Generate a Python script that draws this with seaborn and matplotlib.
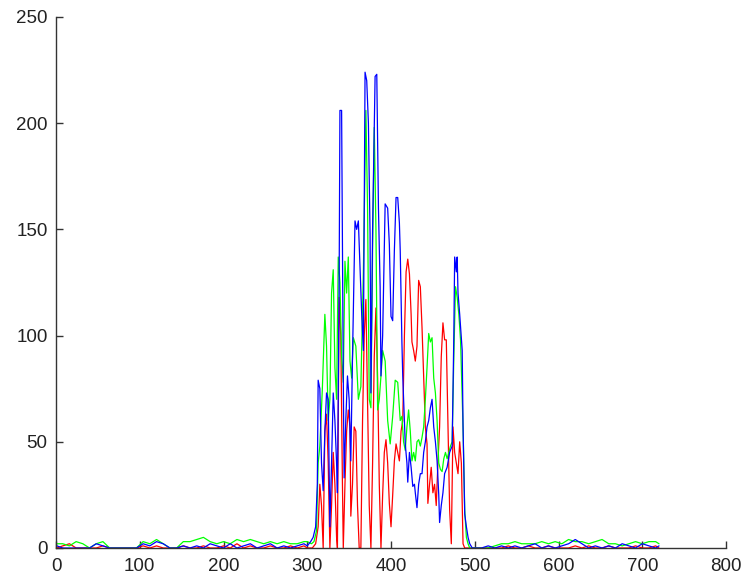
import numpy as np
import pandas as pd
import seaborn as sns
import matplotlib.pyplot as plt

sns.set_style("ticks")
plt.rcParams["font.family"] = ["Liberation Sans", "DejaVu Sans"]

# quiet stretches either side of the active band (shared x positions)
left_x = [1] + list(range(8, 297, 8))
right_x = [500, 508, 516, 524, 532, 540, 548, 556, 564, 572, 580, 588, 596, 604,
           612, 620, 628, 636, 644, 652, 660, 668, 676, 684, 692, 700, 708, 716, 720]

red_left = [0, 1, 2, 0, 0, 0, 0, 1, 0, 0, 0, 0, 0, 1, 0, 1, 0, 0, 0, 1, 0, 0, 1, 0,
            0, 1, 0, 2, 0, 1, 0, 0, 1, 0, 0, 1, 0, 1]
green_left = [2, 2, 1, 3, 2, 0, 2, 3, 0, 0, 0, 0, 0, 3, 2, 4, 2, 0, 0, 3, 3, 4, 5, 3,
              2, 3, 2, 4, 3, 4, 3, 2, 3, 2, 3, 2, 2, 3]
blue_left = [1, 0, 0, 0, 0, 0, 2, 1, 0, 0, 0, 0, 0, 2, 1, 3, 2, 0, 0, 1, 0, 1, 0, 2,
             1, 0, 2, 0, 1, 2, 0, 1, 2, 0, 1, 0, 1, 2]

red_right = [0, 0, 0, 0, 0, 1, 0, 0, 1, 0, 0, 1, 0, 0, 0, 1, 0, 1, 0, 0, 1, 0, 0, 0,
             1, 0, 0, 1, 0]
green_right = [0, 0, 0, 1, 2, 2, 3, 2, 2, 2, 3, 2, 3, 2, 4, 3, 3, 2, 3, 4, 2, 2, 1, 2,
               3, 2, 3, 3, 2]
blue_right = [0, 0, 1, 0, 1, 0, 1, 0, 1, 2, 0, 1, 0, 1, 2, 4, 2, 0, 1, 0, 1, 0, 2, 1,
              0, 2, 1, 0, 1]

# active band
red_ax = [300, 306, 310, 313, 315, 317, 319, 321, 323, 325, 327, 329, 331, 333, 335, 336,
          338, 340, 342, 343, 345, 347, 349, 351, 352, 354, 356, 358, 360, 362, 364, 366,
          368, 370, 372, 374, 376, 378, 380, 382, 384, 386, 388, 390, 392, 394, 396, 398,
          400, 402, 404, 406, 408, 410, 412, 414, 416, 418, 420, 422, 424, 425, 427, 429,
          431, 433, 435, 437, 439, 441, 443, 444, 446, 448, 450, 452, 454, 456, 458, 460,
          462, 464, 466, 468, 470, 472, 474, 476, 478, 480, 482, 484, 486, 488, 494]
red_ay = [0, 0, 2, 10, 30, 20, 0, 55, 63, 40, 0, 20, 45, 30, 5, 0,
          118, 100, 30, 0, 30, 55, 65, 57, 15, 30, 57, 55, 20, 0, 0, 60,
          100, 117, 70, 20, 0, 40, 90, 113, 80, 30, 0, 25, 45, 51, 40, 21,
          10, 25, 41, 49, 45, 41, 55, 60, 100, 130, 136, 129, 110, 97, 93, 88,
          95, 126, 123, 104, 80, 57, 49, 21, 30, 38, 26, 30, 20, 40, 57, 90,
          106, 98, 98, 57, 18, 2, 57, 45, 40, 35, 50, 40, 2, 0, 0]

green_ax = [300, 305, 308, 311, 313, 315, 318, 321, 323, 325, 327, 329, 331, 333, 335, 337,
            339, 341, 343, 345, 347, 349, 351, 353, 355, 358, 361, 364, 367, 370, 372, 374,
            376, 378, 380, 382, 384, 386, 388, 390, 393, 396, 399, 402, 405, 408, 411, 413,
            415, 417, 419, 421, 423, 425, 427, 429, 431, 433, 435, 437, 439, 441, 443, 445,
            447, 449, 451, 453, 455, 457, 459, 461, 463, 465, 467, 469, 471, 473, 475, 477,
            479, 481, 483, 485, 486, 488, 490, 492, 494]
green_ay = [3, 2, 3, 8, 40, 48, 75, 110, 95, 60, 70, 120, 131, 85, 70, 137,
            125, 90, 78, 135, 120, 137, 88, 80, 99, 95, 70, 76, 130, 206, 160, 70,
            66, 140, 198, 150, 65, 70, 81, 93, 88, 60, 49, 62, 79, 78, 60, 62,
            50, 46, 57, 65, 55, 41, 45, 41, 50, 51, 48, 52, 57, 70, 85, 101,
            97, 99, 80, 73, 60, 40, 37, 36, 42, 45, 42, 45, 48, 50, 90, 123,
            118, 110, 98, 70, 57, 18, 5, 2, 0]

blue_ax = [300, 304, 307, 310, 312, 313, 315, 317, 319, 321, 323, 325, 327, 329, 331, 333,
           335, 336, 338, 339, 341, 343, 344, 346, 348, 350, 352, 354, 357, 359, 361, 363,
           365, 367, 369, 371, 373, 375, 376, 378, 381, 383, 385, 387, 388, 390, 393, 396,
           398, 400, 402, 404, 406, 408, 410, 411, 413, 414, 416, 417, 419, 420, 422, 424,
           426, 428, 429, 431, 433, 435, 437, 439, 441, 443, 445, 447, 449, 451, 453, 455,
           457, 458, 460, 462, 464, 467, 470, 473, 475, 476, 478, 479, 480, 482, 485, 486,
           488, 490, 492, 494, 497]
blue_ay = [1, 3, 5, 10, 30, 79, 75, 40, 27, 55, 73, 70, 10, 40, 73, 60,
           40, 26, 120, 206, 206, 80, 33, 60, 81, 70, 41, 90, 154, 150, 154, 132,
           110, 93, 224, 220, 200, 148, 73, 150, 222, 223, 160, 123, 81, 100, 162, 160,
           143, 109, 107, 140, 165, 165, 153, 140, 97, 81, 60, 49, 40, 31, 45, 38,
           29, 30, 26, 19, 30, 35, 35, 45, 50, 57, 60, 66, 70, 57, 50, 41,
           25, 12, 20, 26, 35, 38, 45, 48, 100, 137, 130, 137, 120, 110, 93, 57,
           16, 10, 5, 2, 0]

series = [
    ("red", left_x + red_ax + right_x, red_left + red_ay + red_right, "#ff0000"),
    ("green", left_x + green_ax + right_x, green_left + green_ay + green_right, "#00ff00"),
    ("blue", left_x + blue_ax + right_x, blue_left + blue_ay + blue_right, "#0000ff"),
]

fig = plt.figure(figsize=(7.49, 5.81), dpi=100)
ax = fig.add_axes([0.0748, 0.0568, 0.8945, 0.914])

for name, xs, ys, col in series:
    df = pd.DataFrame({"x": xs, "y": ys})
    sns.lineplot(data=df, x="x", y="y", color=col, linewidth=0.9,
                 estimator=None, sort=False, ax=ax)

ax.set_xlim(0, 800)
ax.set_ylim(0, 250)
ax.set_xticks(range(0, 801, 100))
ax.set_yticks(range(0, 251, 50))
ax.set_xlabel("")
ax.set_ylabel("")
sns.despine(ax=ax)
for s in ["left", "bottom"]:
    ax.spines[s].set_color("#333333")
    ax.spines[s].set_linewidth(1.0)
ax.tick_params(direction="in", length=5, width=1, color="#333333",
               labelsize=13.5, labelcolor="#222222")
ax.tick_params(axis="x", pad=7)
ax.tick_params(axis="y", pad=6)

plt.savefig("out.png", dpi=100)
